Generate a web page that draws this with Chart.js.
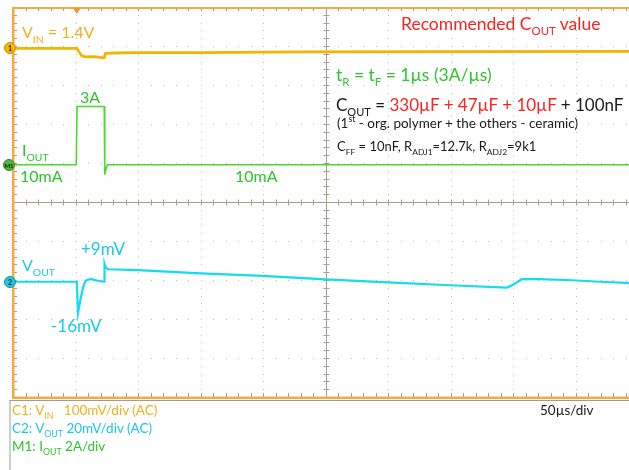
<!DOCTYPE html>
<html>
<head>
<meta charset="utf-8">
<script src="https://cdn.jsdelivr.net/npm/chart.js@4.4.1/dist/chart.umd.min.js"></script>
<style>
html, body { margin: 0; padding: 0; overflow: hidden; background: #fff; }
#wrap { position: relative; width: 640px; height: 470px; font-family: Lato, 'Open Sans', sans-serif; }
#scope { position: absolute; left: 0; top: 0; }
.lbl { position: absolute; white-space: nowrap; font-size: 16px; line-height: 1; }
.lbl sub { font-size: 0.65em; vertical-align: baseline; position: relative; top: 0.45em; }
.lbl sup { font-size: 0.65em; vertical-align: baseline; position: relative; top: -0.6em; }
.ft { font-size: 13.5px; }
.or { color: #f2b01e; }
.gr { color: #2cc62c; }
.cy { color: #1cc8e6; }
.rd { color: #ff1f1f; }
.bk { color: #1a1a1a; }
.mk { position: absolute; width: 12px; height: 12px; border-radius: 50%; box-sizing: border-box;
      font: bold 7px Lato, sans-serif; text-align: center; line-height: 11px; color: #222; }
</style>
</head>
<body>
<div id="wrap">
  <canvas id="scope" width="640" height="470"></canvas>

  <div class="mk" style="left:4px; top:42px; background:#f8b800; border:1px solid #c88e00;">1</div>
  <div class="mk" style="left:3px; top:159px; background:#4cb83c; border:1px solid #2e8a22; font-size:6px;">M1</div>
  <div class="mk" style="left:4px; top:276px; background:#22c8e2; border:1px solid #0a92a8;">2</div>

  <div class="lbl or" style="left:22px; top:24px;">V<sub>IN</sub> = 1.4V</div>
  <div class="lbl gr" style="left:80px; top:89px;">3A</div>
  <div class="lbl gr" style="left:22px; top:142px;">I<sub>OUT</sub></div>
  <div class="lbl gr" style="left:20px; top:168px;">10mA</div>
  <div class="lbl gr" style="left:235px; top:168px;">10mA</div>

  <div class="lbl rd" style="left:401px; top:14.5px; font-size:17.5px;">Recommended C<sub>OUT</sub> value</div>
  <div class="lbl gr" style="left:336px; top:66px; font-size:17.5px;">t<sub>R</sub> = t<sub>F</sub> = 1µs (3A/µs)</div>
  <div class="lbl bk" style="left:336px; top:96px; font-size:17px;">C<sub>OUT</sub> = <span class="rd">330µF + 47µF + 10µF</span> + 100nF</div>
  <div class="lbl bk" style="left:337px; top:116.5px; font-size:13.5px;">(1<sup>st</sup> - org. polymer + the others - ceramic)</div>
  <div class="lbl bk" style="left:337px; top:140px; font-size:13px;">C<sub>FF</sub> = 10nF, R<sub>ADJ1</sub>=12.7k, R<sub>ADJ2</sub>=9k1</div>

  <div class="lbl cy" style="left:81px; top:240px; font-size:17px;">+9mV</div>
  <div class="lbl cy" style="left:22px; top:257px;">V<sub>OUT</sub></div>
  <div class="lbl cy" style="left:51px; top:316.5px; font-size:17px;">-16mV</div>

  <div class="lbl ft or" style="left:12px; top:404px;">C1: V<sub>IN</sub>&nbsp;&nbsp; 100mV/div (AC)</div>
  <div class="lbl ft cy" style="left:12px; top:422px;">C2: V<sub>OUT</sub> 20mV/div (AC)</div>
  <div class="lbl ft gr" style="left:12px; top:440px;">M1: I<sub>OUT</sub> 2A/div</div>
  <div class="lbl ft bk" style="left:540px; top:404px;">50µs/div</div>
</div>

<script>
// time axis in µs (50 µs/div, 10 div)
const vinTime = [0, 51, 53, 55, 58, 65, 71, 73, 74, 80, 100, 150, 230, 350, 500];
const vinMv   = [0, 0, -10, -19, -22, -21, -24, -24, -13, -12, -11, -11, -9, -8.5, -8];

const ioutTime = [0, 50.6, 51.2, 73.0, 73.4, 74.0, 75.5, 500];
const ioutA    = [0.01, 0.01, 3.0, 3.0, -0.5, -0.3, 0.01, 0.01];

const voutTime = [0, 51, 52, 54, 56, 58, 62, 68, 72.8, 73.2, 74, 76, 100, 150, 200, 250, 300, 350, 395, 400, 407, 420, 443, 470, 500];
const voutMv   = [0, 0, -16, -9, -3, 0.5, 1.5, 0.5, 0, 9.2, 7.5, 6.4, 6, 4.3, 3, 1.2, -0.3, -1.8, -3, -1.5, 1.3, 1.3, 0.9, 0, -0.8];

const toPoints = (xs, ys) => xs.map((t, i) => ({ x: t, y: ys[i] }));

// graticule + frame drawn under the traces
const graticule = {
    id: 'graticule',
    beforeDatasetsDraw(chart) {
        const { ctx, chartArea: a } = chart;
        const dw = (a.right - a.left) / 10;
        const dh = (a.bottom - a.top) / 10;
        ctx.save();

        // dotted division lines
        ctx.fillStyle = '#c4bbb0';
        for (let i = 1; i < 10; i++) {
            if (i === 5) continue;
            const gx = Math.round(a.left + i * dw);
            for (let k = 1; k < 50; k++) ctx.fillRect(gx, Math.round(a.top + k * dh / 5), 1, 1);
            const gy = Math.round(a.top + i * dh);
            for (let k = 1; k < 50; k++) ctx.fillRect(Math.round(a.left + k * dw / 5), gy, 1, 1);
        }

        // centre cross with minor ticks
        const cx = Math.round(a.left + 5 * dw) + 0.5;
        const cy = Math.round(a.top + 5 * dh) + 0.5;
        ctx.strokeStyle = '#a89d8e';
        ctx.lineWidth = 1;
        ctx.beginPath();
        ctx.moveTo(cx, a.top); ctx.lineTo(cx, a.bottom);
        ctx.moveTo(a.left, cy); ctx.lineTo(a.right, cy);
        for (let k = 1; k < 50; k++) {
            const ty = Math.round(a.top + k * dh / 5) + 0.5;
            ctx.moveTo(cx - 3, ty); ctx.lineTo(cx + 3, ty);
            ctx.moveTo(a.left, ty); ctx.lineTo(a.left + 4, ty);
            const tx = Math.round(a.left + k * dw / 5) + 0.5;
            ctx.moveTo(tx, cy - 3); ctx.lineTo(tx, cy + 3);
            ctx.moveTo(tx, a.top); ctx.lineTo(tx, a.top + 4);
            ctx.moveTo(tx, a.bottom); ctx.lineTo(tx, a.bottom - 4);
        }
        ctx.stroke();

        // orange frame
        ctx.fillStyle = '#f5a942';
        ctx.fillRect(a.left - 1, a.top, 2.5, a.bottom - a.top + 2);
        ctx.fillRect(a.left - 1, a.top, a.right - a.left + 2, 2);
        ctx.fillRect(a.left - 1, a.bottom - 0.5, a.right - a.left + 2, 2.5);

        // bottom info panel border
        ctx.fillStyle = '#9c9c9c';
        ctx.fillRect(9.5, a.bottom + 3, a.right, 1);
        ctx.fillRect(9.5, a.bottom + 3, 1, chart.height);

        // trigger position marker
        const trig = chart.scales.x.getPixelForValue(51);
        ctx.fillStyle = '#f39434';
        ctx.beginPath();
        ctx.moveTo(trig - 4, a.top + 1); ctx.lineTo(trig + 4, a.top + 1); ctx.lineTo(trig, a.top + 7);
        ctx.closePath();
        ctx.fill();
        ctx.restore();
    }
};

new Chart(document.getElementById('scope'), {
    type: 'line',
    data: {
        datasets: [
            { label: 'VIN', data: toPoints(vinTime, vinMv), yAxisID: 'yVin',
              borderColor: '#f2b400', borderWidth: 2.8 },
            { label: 'IOUT', data: toPoints(ioutTime, ioutA), yAxisID: 'yIout',
              borderColor: '#4cd830', borderWidth: 1.6 },
            { label: 'VOUT', data: toPoints(voutTime, voutMv), yAxisID: 'yVout',
              borderColor: '#12dcef', borderWidth: 2.2 }
        ]
    },
    options: {
        responsive: false,
        animation: false,
        layout: { padding: { left: 13, top: 7, right: 2, bottom: 73 } },
        elements: { point: { radius: 0 }, line: { tension: 0 } },
        plugins: { legend: { display: false }, tooltip: { enabled: false } },
        scales: {
            x: { type: 'linear', min: 0, max: 500, display: false },
            // 100 mV/div, trace offset 8.94 div above bottom
            yVin: { min: -894, max: 106, display: false },
            // 2 A/div, offset 5.95 div
            yIout: { min: -11.9, max: 8.1, display: false },
            // 20 mV/div, offset 2.956 div
            yVout: { min: -59.1, max: 140.9, display: false }
        }
    },
    plugins: [graticule]
});
</script>
</body>
</html>
